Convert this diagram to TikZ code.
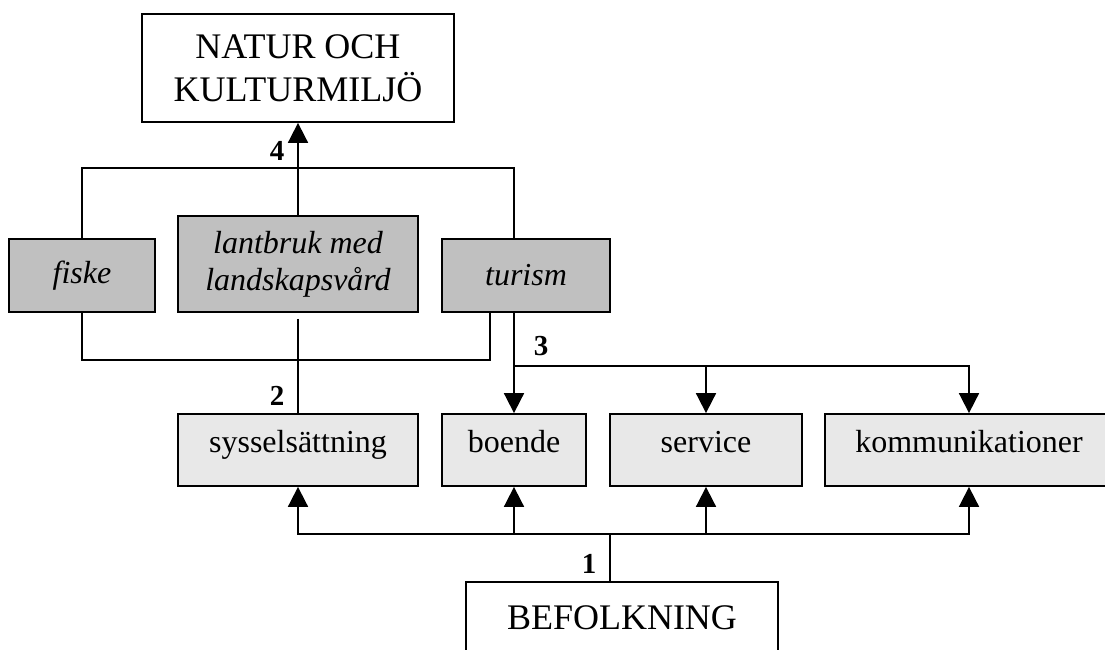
\documentclass[tikz,border=0pt]{standalone}
\usepackage{fontspec}
\setmainfont{Liberation Serif}
\usepackage{xcolor}
\usetikzlibrary{arrows.meta}
\definecolor{sectorgray}{HTML}{C0C0C0}
\definecolor{factorgray}{HTML}{E8E8E8}

\begin{document}
\begin{tikzpicture}[x=1pt,y=-1pt,line width=1.8pt,
    bigbox/.style={draw,fill=white,inner sep=0pt,align=center,font=\fontsize{36}{43}\selectfont},
    sectorbox/.style={draw,fill=sectorgray,inner sep=0pt,align=center,font=\fontsize{32}{37}\selectfont\itshape},
    factorbox/.style={draw,fill=factorgray,inner sep=0pt,minimum height=72pt,text height=0.65em,text depth=0.25em,font=\fontsize{32}{37}\selectfont},
    num/.style={inner sep=0pt,font=\fontsize{29}{29}\selectfont\bfseries},
    arr/.style={-{Triangle[length=20pt,width=20pt]}}]
            \useasboundingbox (0,0) rectangle (1105,650);
            \clip (0,0) rectangle (1105,650);
            % boxes
            \node[bigbox,minimum width=312pt,minimum height=108pt] (natur) at (298,68) {NATUR OCH\\KULTURMILJÖ};
            \node[sectorbox,minimum width=146pt,minimum height=73pt] (fiske) at (82,275.5) {fiske};
            \node[sectorbox,minimum width=240pt,minimum height=96pt] (lantbruk) at (298,264) {lantbruk med\\landskapsvård};
            \node[sectorbox,minimum width=168pt,minimum height=73pt] (turism) at (526,275.5) {turism};
            \node[factorbox,minimum width=240pt] (syssel) at (298,450) {sysselsättning};
            \node[factorbox,minimum width=144pt] (boende) at (514,450) {boende};
            \node[factorbox,minimum width=192pt] (service) at (706,450) {service};
            \node[factorbox,minimum width=288pt] (komm) at (969,450) {kommunikationer};
            \node[bigbox,minimum width=312pt,minimum height=72pt] (befolkning) at (622,618) {BEFOLKNING};
            % junctions
            \coordinate (jt) at (514,168);
            \coordinate (jb) at (490,360);
            \coordinate (j3) at (514,366);
            \coordinate (j1) at (610,534);
            % connectors
            \draw[arr] (lantbruk.north) -- (natur.south);
            \draw (fiske.north) |- (jt) -- (jt |- turism.north);
            \draw (fiske.south) |- (jb) -- (jb |- turism.south);
            \draw ([yshift=-6pt]lantbruk.south) -- (syssel.north);
            \draw[arr] (j3 |- turism.south) -- (boende.north);
            \draw[arr] (j3) -| (komm.north);
            \draw[arr] (j3 -| service.north) -- (service.north);
            \draw (befolkning.north -| j1) -- (j1);
            \draw[arr] (j1) -| (syssel.south);
            \draw[arr] (j1) -| (komm.south);
            \draw[arr] (j1 -| boende.south) -- (boende.south);
            \draw[arr] (j1 -| service.south) -- (service.south);
            % numbers
            \node[num] (n4) at (277,151) {4};
            \node[num] (n2) at (277,396) {2};
            \node[num] (n3) at (541,346) {3};
            \node[num] (n1) at (589,564) {1};
\end{tikzpicture}
\end{document}
